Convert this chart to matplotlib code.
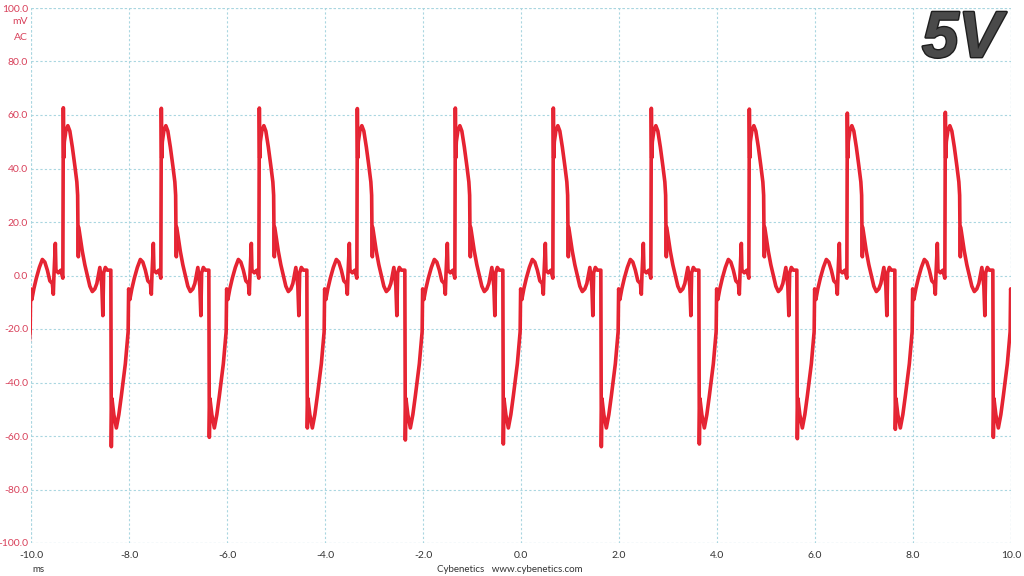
import matplotlib
matplotlib.use("Agg")
import matplotlib.pyplot as plt
import matplotlib.patheffects as pe
import numpy as np

# one period of the ripple (offset from the positive spike in px, mV)
# 49 px = 1 ms on the original capture
shape_px = [0, 0.4, 1.0, 2.5, 4.5, 6.5, 9, 11.5, 13.5, 14.3, 14.6, 15.0, 15.4, 17, 19,
            21.5, 24, 26.5, 29, 31.5, 33.5, 35.5, 36.5, 38.5, 39.5, 40.3, 42, 44, 47.5,
            48, 48.6, 50.5, 53, 55.5, 58, 62, 64.8, 65.3, 66.5, 68.5, 71, 74, 77, 79.5,
            82, 84.5, 87, 88, 88.6, 90, 90.6, 93, 95.5, 97.5]
shape_mv = [62, 44, 50, 54, 56, 54, 48, 41, 35, 30, 18, 7, 18, 14, 9,
            4, 0, -4, -6, -5, -3, 1, 3, -4, -15, 1, 3, 2, 2,
            -63, -46, -52, -57, -52, -45, -33, -21, -5, -9, -5, -1, 3, 6, 5,
            2, -2, -3, -7, 0, 12, 2, 1, 2, -1]

# positive spike times (ms) and the spike heights seen in each period
spike_ms = [-9.34, -7.34, -5.34, -3.34, -1.34, 0.66, 2.66, 4.66, 6.66, 8.66]
pos_peak = [62.7, 62.5, 62.6, 62.4, 62.6, 62.6, 62.5, 62.2, 60.7, 61.0]
neg_peak = [-64, -60.5, -57, -61.5, -63, -64, -63, -61, -57.5, -60.5]

x_ticks = [-10, -8, -6, -4, -2, 0, 2, 4, 6, 8, 10]
y_ticks = [-100, -80, -60, -40, -20, 0, 20, 40, 60, 80, 100]

off = np.array(shape_px) / 49.0
i_neg = shape_px.index(48)
t_all, v_all = [], []
for k in range(-1, len(spike_ms)):
    t0 = spike_ms[0] + 2.0 * k
    v = np.array(shape_mv, dtype=float)
    kk = min(max(k, 0), len(spike_ms) - 1)
    v[0] = pos_peak[kk]
    v[i_neg] = neg_peak[kk]
    t_all.append(t0 + off)
    v_all.append(v)
t = np.concatenate(t_all)
v = np.concatenate(v_all)

fig = plt.figure(figsize=(10.24, 5.76), dpi=100)
ax = fig.add_axes([31 / 1024, 33 / 576, 980 / 1024, 535 / 576])

ax.plot(t, v, color="#ea1f2d", lw=2.6, solid_joinstyle="round")
# thin overlay so the narrow spikes keep their full height
ax.plot(t, v, color="#e02a3a", lw=0.9)

grid_kw = dict(color="#a9d6e0", ls=(0, (2, 2)), lw=0.8)
ax.set_xlim(-10, 10)
ax.set_ylim(-100, 100)
ax.set_xticks(x_ticks)
ax.set_yticks(y_ticks)
ax.set_xticklabels(["%.1f" % x for x in x_ticks], color="#333333", fontsize=7.5, family="Lato")
ax.set_yticklabels(["%.1f" % y for y in y_ticks], color="#d8405a", fontsize=7.5, family="Lato")
ax.tick_params(length=0)
ax.tick_params(axis="y", pad=2)
ax.tick_params(axis="x", pad=6)
for s in ax.spines.values():
    s.set_visible(False)
ax.grid(True, **grid_kw)
ax.set_axisbelow(True)
# outer edges are dotted grid too
for x in (-10, 10):
    ax.axvline(x, zorder=0, **grid_kw)
for y in (-100, 100):
    ax.axhline(y, zorder=0, **grid_kw)

fig.text(28 / 1024, 1 - 22 / 576, "mV", ha="right", va="center", color="#d8405a",
         fontsize=7.5, family="Lato")
fig.text(28 / 1024, 1 - 37 / 576, "AC", ha="right", va="center", color="#d8405a",
         fontsize=7.5, family="Lato")
fig.text(38 / 1024, 1 - 569 / 576, "ms", ha="center", va="center", color="#333333",
         fontsize=7, family="Lato")
fig.text(510 / 1024, 1 - 569 / 576, "Cybenetics   www.cybenetics.com", ha="center",
         va="center", color="#333333", fontsize=7, family="Lato")

fig.text(962 / 1024, 1 - 40 / 576, "5V", ha="center", va="center", fontsize=47,
         fontweight="bold", fontstyle="italic", family="Liberation Sans", color="#4a4a4a",
         path_effects=[pe.withStroke(linewidth=2, foreground="#1e1e1e")])

fig.savefig("out.png", dpi=100)
